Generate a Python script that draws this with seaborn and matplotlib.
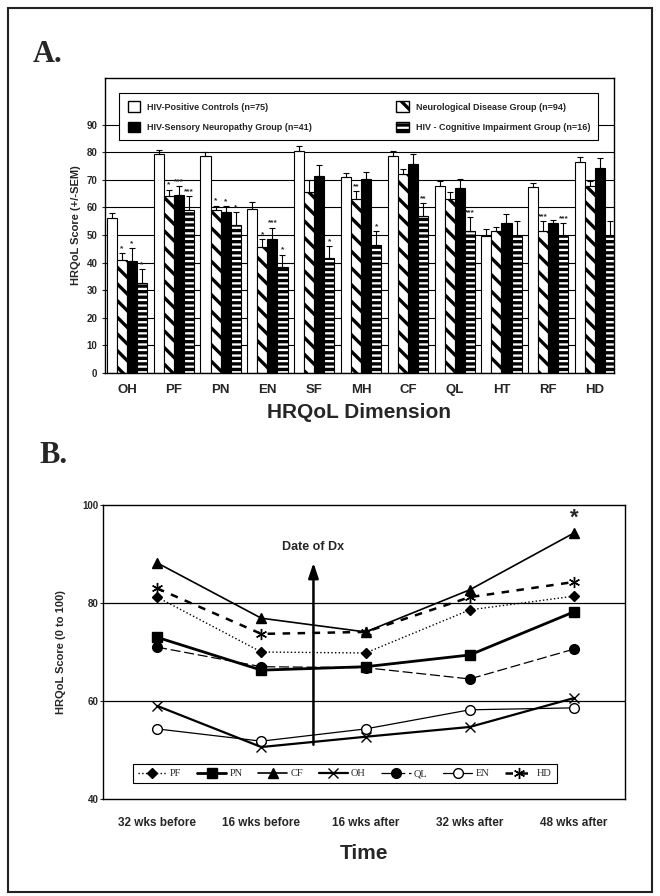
import numpy as np
import pandas as pd
import seaborn as sns
import matplotlib.pyplot as plt
from matplotlib.patches import Patch, Rectangle

# ---- panel A data ----
dims = ["OH", "PF", "PN", "EN", "SF", "MH", "CF", "QL", "HT", "RF", "HD"]
groups = ["HIV-Positive Controls (n=75)", "Neurological Disease Group (n=94)",
          "HIV-Sensory Neuropathy Group (n=41)", "HIV - Cognitive Impairment Group (n=16)"]
controls = [56, 79.3, 78.5, 59.6, 80.4, 70.9, 78.5, 67.6, 49.8, 67.3, 76.4]
neuro = [41, 64, 59, 45.8, 65.5, 62.9, 72, 62.9, 51.3, 51.3, 67.6]
sensory = [40.4, 64.4, 58.2, 48.7, 71.3, 70.2, 75.6, 66.9, 54.2, 54.2, 74.2]
cognitive = [32.7, 59, 53.5, 38.2, 41.5, 46.2, 57, 51.3, 49.8, 49.8, 49.8]
controls_sem = [2, 1.4, 1.5, 2.2, 1.8, 1.6, 1.9, 1.9, 2.2, 1.7, 1.8]
neuro_sem = [2.6, 2.5, 1.7, 2.6, 4.5, 3, 2, 2.6, 1.7, 3.7, 1.9]
sensory_sem = [5, 3.2, 2.2, 4, 4, 2.5, 3.7, 3.6, 3.3, 1.4, 3.6]
cognitive_sem = [4.8, 5, 5, 4.7, 4.5, 5.1, 4.5, 5.1, 5.2, 4.7, 5.2]
controls_stars = [""] * 11
neuro_stars = ["*", "*", "*", "*", "", "**", "", "", "", "***", ""]
sensory_stars = ["*", "***", "*", "***", "", "", "", "", "", "", ""]
cognitive_stars = ["*", "***", "*", "*", "*", "*", "**", "***", "", "***", ""]

# ---- panel B data ----
times = ["32 wks before", "16 wks before", "16 wks after", "32 wks after", "48 wks after"]
pf = [81.2, 70, 69.8, 78.6, 81.4]
pn = [73, 66.3, 67, 69.4, 78.2]
cf = [88.2, 76.9, 74.1, 82.7, 94.3]
oh = [59, 50.6, 52.7, 54.7, 60.6]
ql = [71, 67, 66.8, 64.5, 70.6]
en = [54.3, 51.8, 54.3, 58.2, 58.6]
hd = [83, 73.7, 74.1, 81.2, 84.3]

sns.set_style("white")
plt.rcParams['font.family'] = ['Liberation Sans', 'DejaVu Sans']
plt.rcParams['hatch.linewidth'] = 2.4
plt.rcParams['hatch.color'] = 'black'

fig = plt.figure(figsize=(6.6, 8.96), dpi=100)

# ================= panel A =================
ax1 = fig.add_axes([0.159, 0.584, 0.771, 0.329])
df = pd.DataFrame({
    "dim": dims * 4,
    "score": controls + neuro + sensory + cognitive,
    "group": [g for g in groups for _ in dims],
})
sns.barplot(data=df, x="dim", y="score", hue="group", hue_order=groups,
            palette=["white", "white", "black", "white"], edgecolor="black",
            linewidth=0.8, width=0.86, errorbar=None, legend=False, ax=ax1, zorder=2)

hatches = ["", "\\\\", "", "---"]
sems = [controls_sem, neuro_sem, sensory_sem, cognitive_sem]
stars = [controls_stars, neuro_stars, sensory_stars, cognitive_stars]
for cont, h, err, st in zip(ax1.containers, hatches, sems, stars):
    xs, ys = [], []
    for bar in cont:
        bar.set_hatch(h)
        xs.append(bar.get_x() + bar.get_width() / 2)
        ys.append(bar.get_height())
    ax1.errorbar(xs, ys, yerr=[np.zeros(len(err)), err], fmt="none", ecolor="black",
                 elinewidth=0.8, capsize=2.5, capthick=0.8, zorder=3)
    for x, y, e, s in zip(xs, ys, err, st):
        if s:
            ax1.text(x, y + e + 0.3, s, ha="center", va="bottom", fontsize=6,
                     fontweight="bold", zorder=4)

ax1.set_ylim(0, 107)
ax1.set_xlim(-0.47, 10.4)
ax1.set_yticks(range(0, 91, 10))
ax1.yaxis.grid(True, color="black", linewidth=0.8, zorder=0)
ax1.set_axisbelow(True)
ax1.tick_params(axis="y", labelsize=7, length=2, left=True)
ax1.tick_params(axis="x", labelsize=9.5, length=0, pad=8)
for lab in ax1.get_xticklabels() + ax1.get_yticklabels():
    lab.set_fontweight("bold")
ax1.set_ylabel("HRQoL Score (+/-SEM)", fontsize=8, fontweight="bold", labelpad=4)
ax1.set_xlabel("HRQoL Dimension", fontsize=15, fontweight="bold", labelpad=5)
for sp in ax1.spines.values():
    sp.set_color("black")
    sp.set_linewidth(1)

handles = [Patch(facecolor="white", edgecolor="black", hatch=""),
           Patch(facecolor="black", edgecolor="black"),
           Patch(facecolor="white", edgecolor="black", hatch="\\\\"),
           Patch(facecolor="white", edgecolor="black", hatch="---")]
labels = [groups[0], groups[2], groups[1], groups[3]]
leg1 = ax1.legend(handles, labels, ncol=2, loc="upper left",
                  bbox_to_anchor=(0.0196, 0.963, 0.959, 0.0), mode="expand",
                  prop={"size": 6.5, "weight": "bold"}, handlelength=1.4,
                  handleheight=1.4, labelspacing=1.1, borderpad=0.9,
                  fancybox=False, framealpha=1, edgecolor="black")
leg1.get_frame().set_linewidth(0.8)
leg1.set_zorder(5)

# ================= panel B =================
ax2 = fig.add_axes([0.156, 0.1083, 0.791, 0.328])
x = np.arange(len(times))
series = [
    ("PF", pf, dict(linestyle=":", linewidth=1.0, marker="D", markersize=5)),
    ("PN", pn, dict(linestyle="-", linewidth=2.0, marker="s", markersize=7)),
    ("CF", cf, dict(linestyle="-", linewidth=1.2, marker="^", markersize=7)),
    ("OH", oh, dict(linestyle="-", linewidth=1.6, marker="x", markersize=7,
                    markerfacecolor="none")),
    ("QL", ql, dict(linestyle=(0, (8, 3)), linewidth=0.9, marker="o", markersize=7)),
    ("EN", en, dict(linestyle="-", linewidth=0.9, marker="o", markersize=7,
                    markerfacecolor="white")),
    ("HD", hd, dict(linestyle=(0, (3, 3)), linewidth=1.8, marker=(6, 2, 0),
                    markersize=8)),
]
for name, vals, kw in series:
    sns.lineplot(x=x, y=vals, color="black", markeredgecolor="black",
                 markeredgewidth=1.0, label=name, ax=ax2, **kw)

ax2.set_ylim(40, 100)
ax2.set_xlim(-0.52, 4.49)
ax2.set_yticks([40, 60, 80, 100])
ax2.set_xticks(x)
ax2.set_xticklabels(times)
for yv in (60, 80):
    ax2.axhline(yv, color="black", linewidth=0.9, zorder=0)
ax2.tick_params(axis="y", labelsize=7, length=2, left=True, pad=1)
ax2.tick_params(axis="x", labelsize=8.5, length=0, pad=13)
for lab in ax2.get_xticklabels() + ax2.get_yticklabels():
    lab.set_fontweight("bold")
ax2.set_ylabel("HRQoL Score (0 to 100)", fontsize=8, fontweight="bold", labelpad=12)
ax2.set_xlabel("Time", fontsize=15, fontweight="bold", labelpad=11)
for sp in ax2.spines.values():
    sp.set_color("black")
    sp.set_linewidth(1)

ax2.annotate("", xy=(1.5, 88.8), xytext=(1.5, 50.5),
             arrowprops=dict(arrowstyle="-|>,head_length=0.9,head_width=0.3",
                             color="black", lw=1.8))
ax2.text(1.5, 90.2, "Date of Dx", ha="center", va="bottom", fontsize=9, fontweight="bold")
ax2.text(4, 95.2, "*", ha="center", va="bottom", fontsize=16, fontweight="bold")

leg2 = ax2.legend(ncol=7, loc="upper left", bbox_to_anchor=(0.048, 0.135),
                  prop={"family": "Liberation Serif", "size": 7.5},
                  handlelength=2.8, handletextpad=0.3, columnspacing=1.5,
                  borderpad=0.45, fancybox=False, framealpha=1, edgecolor="black")
leg2.get_frame().set_linewidth(0.8)

# panel letters and outer frame
fig.text(0.05, 0.939, "A.", family="Liberation Serif", fontweight="bold", fontsize=22,
         va="center")
fig.text(0.06, 0.492, "B.", family="Liberation Serif", fontweight="bold", fontsize=22,
         va="center")
fig.patches.append(Rectangle((0.012, 0.005), 0.976, 0.986, transform=fig.transFigure,
                             fill=False, linewidth=1.5, edgecolor="#222222"))

fig.savefig("out.png", dpi=100)
